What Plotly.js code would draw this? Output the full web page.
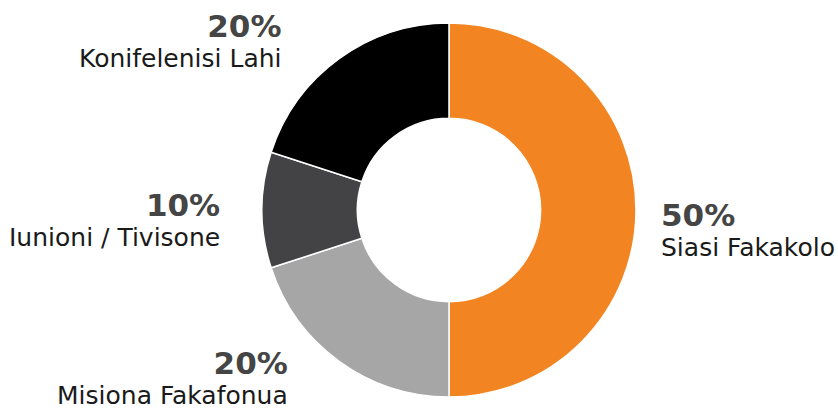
<!DOCTYPE html>
<html>
<head>
<meta charset="utf-8">
<script src="https://cdn.plot.ly/plotly-3.0.1.min.js"></script>
<style>html,body{margin:0;padding:0;background:#fff;}#chart{width:838px;height:410px;}</style>
</head>
<body>
<div id="chart"></div>
<script>
// Data
const categories = ["Siasi Fakakolo", "Misiona Fakafonua", "Iunioni / Tivisone", "Konifelenisi Lahi"];
const values = [50, 20, 10, 20];
const colors = ["#F28522", "#A6A6A6", "#434345", "#000000"];

// Layout geometry (pixels)
const W = 838, H = 410;
const cx = 449, cy = 210, R = 187;
// label nudges relative to slice mid-point on the rim (pixels)
const labelDy = [46, 43, 36, 8];
const labelDx = [0, 2, 0, -4];

const total = values.reduce((a, b) => a + b, 0);
const annotations = [];
let cum = 0;
values.forEach((v, i) => {
  const mid = (cum + v / 2) / total * 2 * Math.PI;
  cum += v;
  const sx = Math.sin(mid), cyy = -Math.cos(mid);
  const px = cx + R * sx, py = cy + R * cyy;
  const right = sx > 0.1;
  const gap = right ? 24 : 41 + 14 * Math.abs(Math.cos(mid));
  const ax = (right ? px + gap : px - gap) + labelDx[i];
  const baseline = py + labelDy[i];
  const pct = Math.round(v / total * 100) + "%";
  annotations.push({
    xref: "paper", yref: "paper",
    x: ax / W, y: 1 - (baseline + 7) / H,
    xanchor: right ? "left" : "right", yanchor: "bottom",
    align: right ? "left" : "right",
    text: '<span style="font-size:31px;font-weight:bold;fill:#454545">' + pct + '</span><br>' +
          '<span style="font-size:25px">' + categories[i] + '</span>',
    showarrow: false, borderpad: 0,
    font: {family: "DejaVu Sans, sans-serif", size: 23, color: "#1a1a1a"}
  });
});

const trace = {
  type: "pie",
  labels: categories,
  values: values,
  hole: 0.49,
  sort: false,
  direction: "clockwise",
  rotation: 0,
  marker: {colors: colors, line: {color: "#ffffff", width: 1.5}},
  textinfo: "none",
  hoverinfo: "none",
  showlegend: false,
  domain: {x: [(cx - R) / W, (cx + R) / W], y: [(H - cy - R) / H, (H - cy + R) / H]}
};

const layout = {
  width: W, height: H,
  margin: {l: 0, r: 0, t: 0, b: 0},
  paper_bgcolor: "#ffffff",
  showlegend: false,
  annotations: annotations
};

Plotly.newPlot("chart", [trace], layout, {displayModeBar: false, staticPlot: true});
</script>
</body>
</html>
